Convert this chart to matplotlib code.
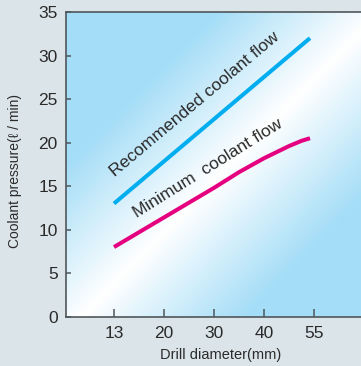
import numpy as np
import matplotlib
matplotlib.use("Agg")
import matplotlib.pyplot as plt
from matplotlib.colors import LinearSegmentedColormap

# === Données ===
diameters = ["13", "20", "30", "40", "55"]
tick_pos = [0, 1, 2, 3, 4]

rec_x = [0, 3.92]
rec_flow = [13.0, 32.0]

min_x = [0, 1, 2, 2.5, 3, 3.25, 3.5, 3.75, 3.92]
min_flow = [8.0, 11.4, 14.8, 16.6, 18.2, 18.9, 19.6, 20.2, 20.5]

y_ticks = [0, 5, 10, 15, 20, 25, 30, 35]

# === Style ===
plt.rcParams['font.family'] = ['Liberation Sans', 'DejaVu Sans']
BG = '#dbe5e9'
SPINE = '#4f575b'
TEXT = '#2a2a2a'
BLUE = '#00aeef'
PINK = '#e4007f'

fig = plt.figure(figsize=(3.61, 3.66), dpi=100, facecolor=BG)
ax = fig.add_axes([66 / 361, 49.3 / 366, 300 / 361, 304.7 / 366])
ax.set_xlim(-0.96, 5.04)
ax.set_ylim(0, 35)

# === Fond dégradé (bleu -> blanc -> bleu en diagonale) ===
n = 300
u, v = np.meshgrid(np.linspace(0, 1, n), np.linspace(1, 0, n))
d = np.clip(np.abs((u - v) - 0.05) / 0.55, 0, 1)
cmap = LinearSegmentedColormap.from_list('grad', ['#ffffff', '#a4ddf7'])
ax.imshow(d, cmap=cmap, extent=[0, 1, 0, 1], transform=ax.transAxes,
          aspect='auto', zorder=0, vmin=0, vmax=1)

# === Courbes ===
ax.plot(rec_x, rec_flow, color=BLUE, lw=2.9, solid_capstyle='butt', zorder=3)
ax.plot(min_x, min_flow, color=PINK, lw=2.9, solid_capstyle='butt', zorder=3)

ax.text(0.03, 16.0, "Recommended coolant flow", rotation=40, rotation_mode='anchor',
        ha='left', va='baseline', fontsize=12.6, color=TEXT, zorder=4)
ax.text(0.46, 11.3, "Minimum  coolant flow", rotation=32, rotation_mode='anchor',
        ha='left', va='baseline', fontsize=12.6, color=TEXT, zorder=4)

# === Axes ===
ax.set_xticks(tick_pos)
ax.set_xticklabels(diameters)
ax.set_yticks(y_ticks)
ax.tick_params(axis='x', direction='in', length=6, width=1.1, color=SPINE,
               labelsize=12.5, labelcolor=TEXT, pad=7)
ax.tick_params(axis='y', direction='in', length=3.6, width=1.1, color=SPINE,
               labelsize=12.5, labelcolor=TEXT, pad=6)

for side in ['left', 'bottom', 'top']:
    ax.spines[side].set_color(SPINE)
    ax.spines[side].set_linewidth(1.2)
ax.spines['right'].set_visible(False)

ax.set_xlabel("Drill diameter(mm)", fontsize=10.5, color=TEXT)
ax.xaxis.set_label_coords(0.515, -0.103)
ax.set_ylabel("Coolant pressure(ℓ / min)", fontsize=10, color=TEXT)
ax.yaxis.set_label_coords(-0.148, 0.478)

fig.savefig("out.png", dpi=100, facecolor=BG)
